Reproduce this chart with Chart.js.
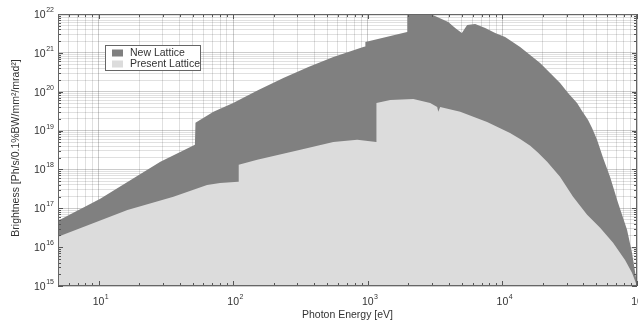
<!DOCTYPE html>
<html lang="en">
<head>
    <meta charset="UTF-8">
    <title>Brightness - New vs Present Lattice</title>
    <script src="https://cdn.jsdelivr.net/npm/chart.js@4"></script>
    <style>
        html, body { margin: 0; padding: 0; background: #fff; }
        canvas { display: block; }
    </style>
</head>
<body>
    <canvas id="brightnessChart" width="638" height="323"></canvas>
    <script>
        // Values (eV, Ph/s/0.1%BW/mm^2/mrad^2)
        const seriesNames = ['New Lattice', 'Present Lattice'];

        const energyNew = [5, 10.3, 28.8, 52, 52.5, 71.4, 100, 154, 236, 362, 555, 717, 925, 958, 960, 1960, 1965,
            2400, 2800, 3280, 3960, 4460, 5000, 5475, 6280, 7450, 8840, 10480, 13540, 16070,
            19060, 22620, 26830, 30760, 35870, 39070, 43300, 46350, 50490, 55940, 63030, 72280, 84320, 91830, 98300, 100000];
        const brightNew = [4.77e16, 1.75e17, 1.57e18, 4.29e18, 1.58e19, 3.03e19, 5.15e19, 1.11e20, 2.26e20, 4.35e20, 7.85e20, 1.05e21, 1.42e21, 1.45e21, 1.91e21, 3.44e21, 9.6e21,
            1.08e22, 1.07e22, 8.4e21, 6.2e21, 4.37e21, 3.25e21, 5.2e21, 5.5e21, 4.37e21, 3.25e21, 2.56e21, 1.42e21, 8.84e20,
            5.5e20, 3.04e20, 1.68e20, 9.3e19, 5.15e19, 3.2e19, 1.88e19, 1.17e19, 5.77e18, 1.99e18, 6.46e17, 1.38e17, 2.8e16, 7.2e15, 1.63e15, 1e15];

        const energyPresent = [5, 16.4, 36, 64, 80, 109, 110, 151, 316, 555, 836, 1157, 1160,
            1470, 2180, 2910, 3280, 3340, 3450, 4860, 7700, 11400, 13540, 16100, 18430, 21500, 26800,
            33500, 42600, 53200, 66400, 81500, 91800, 100000];
        const brightPresent = [1.85e16, 9.1e16, 1.98e17, 4.0e17, 4.5e17, 4.8e17, 1.31e18, 1.77e18, 3.19e18, 5.1e18, 5.77e18, 5.1e18, 5.15e19,
            6.15e19, 6.5e19, 5.15e19, 4.06e19, 3.03e19, 4.06e19, 3.03e19, 1.67e19, 8.7e18, 6.1e18, 4.05e18, 2.67e18, 1.57e18, 6.46e17,
            1.98e17, 6.8e16, 3.15e16, 1.3e16, 4.7e15, 2.2e15, 1e15];

        const xDecades = [1, 2, 3, 4, 5];
        const yDecades = [15, 16, 17, 18, 19, 20, 21, 22];

        const FONT = '"Liberation Sans", Arial, sans-serif';
        const TEXT = '#333';

        // 1..9 x 10^n ticks between min and max
        function logTicks(min, max) {
            const out = [];
            for (let e = Math.floor(Math.log10(min)); e <= Math.ceil(Math.log10(max)); e++) {
                for (let m = 1; m <= 9; m++) {
                    const v = m * Math.pow(10, e);
                    if (v >= min * 0.999 && v <= max * 1.001) out.push({ value: v, major: m === 1 });
                }
            }
            return out;
        }

        function drawPow(ctx, x, y, exp, align) {
            ctx.font = '10.5px ' + FONT;
            const wb = ctx.measureText('10').width;
            ctx.font = '7px ' + FONT;
            const we = ctx.measureText(String(exp)).width;
            let bx;
            if (align === 'right') bx = x - we - 0.5 - wb;
            else bx = x - wb / 2;
            ctx.textAlign = 'left';
            ctx.textBaseline = 'middle';
            ctx.font = '10.5px ' + FONT;
            ctx.fillText('10', bx, y + 1);
            ctx.font = '7px ' + FONT;
            ctx.fillText(String(exp), bx + wb + 0.5, y - 4);
        }

        const matlabAxes = {
            id: 'matlabAxes',
            afterDraw(chart) {
                const ctx = chart.ctx;
                const a = chart.chartArea;
                const xs = chart.scales.x, ys = chart.scales.y;
                ctx.save();

                // inward ticks on all four sides
                ctx.strokeStyle = '#555';
                ctx.lineWidth = 1;
                ctx.beginPath();
                xs.ticks.forEach(t => {
                    const px = Math.round(xs.getPixelForValue(t.value)) + 0.5;
                    const len = t.major ? 5 : 3;
                    ctx.moveTo(px, a.bottom); ctx.lineTo(px, a.bottom - len);
                    ctx.moveTo(px, a.top); ctx.lineTo(px, a.top + len);
                });
                ys.ticks.forEach(t => {
                    const py = Math.round(ys.getPixelForValue(t.value)) + 0.5;
                    const len = t.major ? 5 : 3;
                    ctx.moveTo(a.left, py); ctx.lineTo(a.left + len, py);
                    ctx.moveTo(a.right, py); ctx.lineTo(a.right - len, py);
                });
                ctx.stroke();

                // box
                ctx.strokeStyle = '#666';
                ctx.strokeRect(a.left + 0.5, a.top + 0.5, a.right - a.left - 1, a.bottom - a.top - 1);

                // tick labels
                ctx.fillStyle = TEXT;
                yDecades.forEach(e => drawPow(ctx, a.left - 4, ys.getPixelForValue(Math.pow(10, e)), e, 'right'));
                xDecades.forEach(e => drawPow(ctx, xs.getPixelForValue(Math.pow(10, e)), 301, e, 'center'));

                // axis titles
                ctx.font = '10.5px ' + FONT;
                ctx.textAlign = 'center';
                ctx.textBaseline = 'middle';
                ctx.fillText('Photon Energy [eV]', (a.left + a.right) / 2, 315);
                ctx.save();
                ctx.translate(16, 148);
                ctx.rotate(-Math.PI / 2);
                ctx.fillText('Brightness [Ph/s/0.1%BW/mm\u00B2/mrad\u00B2]', 0, 0);
                ctx.restore();

                // legend
                const lx = 105, ly = 45, lw = 96, lh = 26;
                ctx.fillStyle = '#fff';
                ctx.fillRect(lx, ly, lw, lh);
                ctx.strokeStyle = '#666';
                ctx.strokeRect(lx + 0.5, ly + 0.5, lw - 1, lh - 1);
                const swatch = ['#808080', '#dcdcdc'];
                seriesNames.forEach((name, i) => {
                    const cy = ly + 8 + i * 11;
                    ctx.fillStyle = swatch[i];
                    ctx.fillRect(lx + 7, cy - 3.5, 11, 7);
                    ctx.fillStyle = TEXT;
                    ctx.font = '10.5px ' + FONT;
                    ctx.textAlign = 'left';
                    ctx.textBaseline = 'middle';
                    ctx.fillText(name, lx + 25, cy + 0.5);
                });
                ctx.restore();
            }
        };

        const gridColor = c => (c.tick && c.tick.major) ? 'rgba(0,0,0,0.2)' : 'rgba(0,0,0,0.12)';

        new Chart(document.getElementById('brightnessChart'), {
            type: 'line',
            data: {
                datasets: [{
                    label: seriesNames[0],
                    data: energyNew.map((e, i) => ({ x: e, y: brightNew[i] })),
                    backgroundColor: '#808080',
                    borderWidth: 0,
                    pointRadius: 0,
                    fill: 'start',
                    order: 2,
                    clip: 0
                }, {
                    label: seriesNames[1],
                    data: energyPresent.map((e, i) => ({ x: e, y: brightPresent[i] })),
                    backgroundColor: '#dcdcdc',
                    borderWidth: 0,
                    pointRadius: 0,
                    fill: 'start',
                    order: 1,
                    clip: 0
                }]
            },
            options: {
                responsive: false,
                animation: false,
                devicePixelRatio: 1,
                layout: { padding: { left: 58, top: 14, right: 1, bottom: 37 } },
                scales: {
                    x: {
                        type: 'logarithmic',
                        min: 5, max: 1e5,
                        ticks: { display: false },
                        grid: { color: gridColor, drawTicks: false },
                        border: { display: false },
                        afterBuildTicks: s => { s.ticks = logTicks(5, 1e5); },
                        afterFit: s => { s.height = 0; }
                    },
                    y: {
                        type: 'logarithmic',
                        min: 1e15, max: 1e22,
                        ticks: { display: false },
                        grid: { color: gridColor, drawTicks: false },
                        border: { display: false },
                        afterBuildTicks: s => { s.ticks = logTicks(1e15, 1e22); },
                        afterFit: s => { s.width = 0; }
                    }
                },
                plugins: {
                    legend: { display: false },
                    tooltip: { enabled: false }
                }
            },
            plugins: [matlabAxes]
        });
    </script>
</body>
</html>
